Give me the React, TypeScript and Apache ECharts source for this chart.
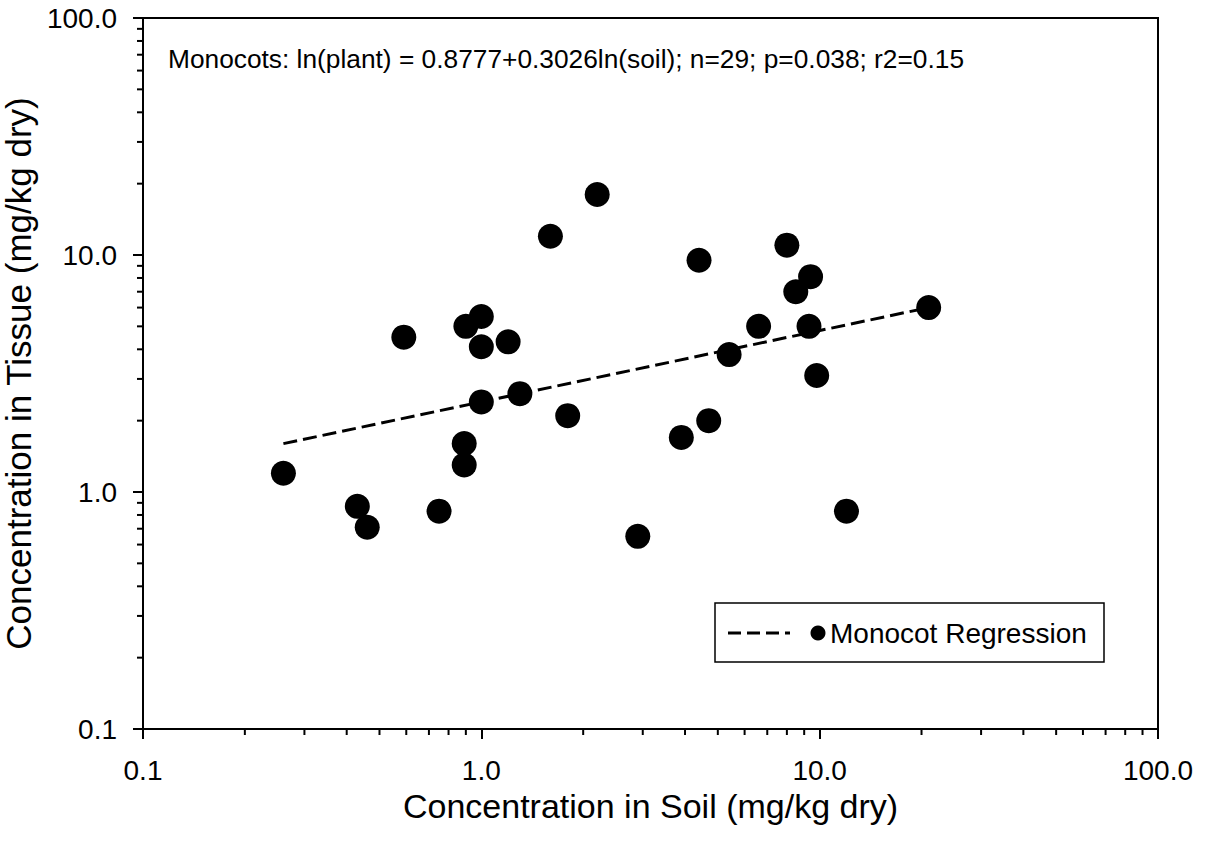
import React, { useEffect, useRef } from "react";
import * as echarts from "echarts";

// Data (soil vs tissue concentration, mg/kg dry)
const soil = [0.26, 0.43, 0.46, 0.59, 0.75, 0.9, 1.0, 1.0, 1.2, 1.0, 1.3, 0.89, 0.89, 1.6, 1.8, 2.2, 4.4, 8.0, 9.4, 8.5, 21, 6.6, 9.3, 5.4, 9.8, 4.7, 3.9, 12, 2.9];
const tissue = [1.2, 0.87, 0.71, 4.5, 0.83, 5.0, 5.5, 4.1, 4.3, 2.4, 2.6, 1.6, 1.3, 12, 2.1, 18, 9.5, 11, 8.1, 7.0, 6.0, 5.0, 5.0, 3.8, 3.1, 2.0, 1.7, 0.83, 0.65];

// Regression line end points
const regSoil = [0.26, 21];
const regTissue = [1.6, 6.0];

// Axis ticks
const axisMin = 0.1;
const axisMax = 100;
const minorTicks = [0.2, 0.3, 0.4, 0.5, 0.6, 0.7, 0.8, 0.9, 2, 3, 4, 5, 6, 7, 8, 9, 20, 30, 40, 50, 60, 70, 80, 90];

const equationText = "Monocots: ln(plant) = 0.8777+0.3026ln(soil); n=29; p=0.038; r2=0.15";
const legendLabel = "Monocot Regression";
const xTitle = "Concentration in Soil (mg/kg dry)";
const yTitle = "Concentration in Tissue (mg/kg dry)";

const FONT = "'Liberation Sans', Arial, Helvetica, sans-serif";

export default function App() {
  const ref = useRef<HTMLDivElement>(null);

  useEffect(() => {
    document.body.style.margin = "0";
    if (!ref.current) return;
    const chart = echarts.init(ref.current, null, { renderer: "svg" });

    const points = soil.map((s, i) => [s, tissue[i]]);
    const reg = regSoil.map((s, i) => [s, regTissue[i]]);

    const axisCommon = {
      type: "log" as const,
      logBase: 10,
      min: axisMin,
      max: axisMax,
      splitNumber: 3,
      splitLine: { show: false },
      axisLine: { show: true, onZero: false, lineStyle: { color: "#000", width: 2 } },
      axisTick: { show: true, inside: false, length: 10, lineStyle: { color: "#000", width: 2 } },
      nameLocation: "middle" as const,
    };

    const option: any = {
      animation: false,
      backgroundColor: "#fff",
      textStyle: { fontFamily: FONT },
      grid: {
        left: 143,
        right: 49,
        top: 18,
        bottom: 119,
        containLabel: false,
        outerBoundsMode: "none",
        show: true,
        borderColor: "#000",
        borderWidth: 2,
        backgroundColor: "transparent",
      },
      xAxis: {
        ...axisCommon,
        name: xTitle,
        nameGap: 60,
        nameTextStyle: { fontSize: 34, color: "#000", fontFamily: FONT },
        axisLabel: {
          margin: 27,
          fontSize: 28,
          color: "#000",
          fontFamily: FONT,
          formatter: (v: number) => Number(v).toFixed(1),
        },
      },
      yAxis: {
        ...axisCommon,
        name: yTitle,
        nameGap: 92,
        nameTextStyle: { fontSize: 35, color: "#000", fontFamily: FONT },
        axisLabel: {
          margin: 26,
          fontSize: 28,
          color: "#000",
          fontFamily: FONT,
          formatter: (v: number) => Number(v).toFixed(1),
        },
      },
      series: [
        {
          type: "line",
          data: reg,
          symbol: "none",
          silent: true,
          lineStyle: { color: "#000", width: 3, type: [14, 6] },
          z: 2,
        },
        {
          type: "scatter",
          data: points,
          symbol: "circle",
          symbolSize: 25,
          itemStyle: { color: "#000", opacity: 1 },
          silent: true,
          z: 3,
        },
        {
          type: "custom",
          silent: true,
          clip: false,
          data: minorTicks.map((v) => [v, axisMin]),
          renderItem: (_p: any, api: any) => {
            const c = api.coord([api.value(0), api.value(1)]);
            return {
              type: "line",
              shape: { x1: c[0], y1: c[1], x2: c[0], y2: c[1] + 6 },
              style: { stroke: "#000", lineWidth: 2 },
            };
          },
          z: 4,
        },
        {
          type: "custom",
          silent: true,
          clip: false,
          data: minorTicks.map((v) => [axisMin, v]),
          renderItem: (_p: any, api: any) => {
            const c = api.coord([api.value(0), api.value(1)]);
            return {
              type: "line",
              shape: { x1: c[0], y1: c[1], x2: c[0] - 6, y2: c[1] },
              style: { stroke: "#000", lineWidth: 2 },
            };
          },
          z: 4,
        },
      ],
      graphic: [
        {
          type: "text",
          left: 168,
          top: 46,
          style: {
            text: equationText,
            fontSize: 26.3,
            fontFamily: FONT,
            fill: "#000",
          },
          z: 10,
        },
        {
          type: "group",
          z: 10,
          children: [
            {
              type: "rect",
              shape: { x: 715, y: 603, width: 389, height: 59 },
              style: { fill: "#fff", stroke: "#000", lineWidth: 1.5 },
            },
            {
              type: "line",
              shape: { x1: 728, y1: 633, x2: 790, y2: 633 },
              style: { stroke: "#000", lineWidth: 3, lineDash: [13, 6] },
            },
            {
              type: "circle",
              shape: { cx: 818, cy: 633, r: 7.5 },
              style: { fill: "#000" },
            },
            {
              type: "text",
              x: 830,
              y: 633,
              style: {
                text: legendLabel,
                fontSize: 28,
                fontFamily: FONT,
                fill: "#000",
                verticalAlign: "middle",
                align: "left",
              },
            },
          ],
        },
      ],
    };

    chart.setOption(option);
    return () => chart.dispose();
  }, []);

  return <div ref={ref} style={{ width: 1207, height: 848 }} />;
}
